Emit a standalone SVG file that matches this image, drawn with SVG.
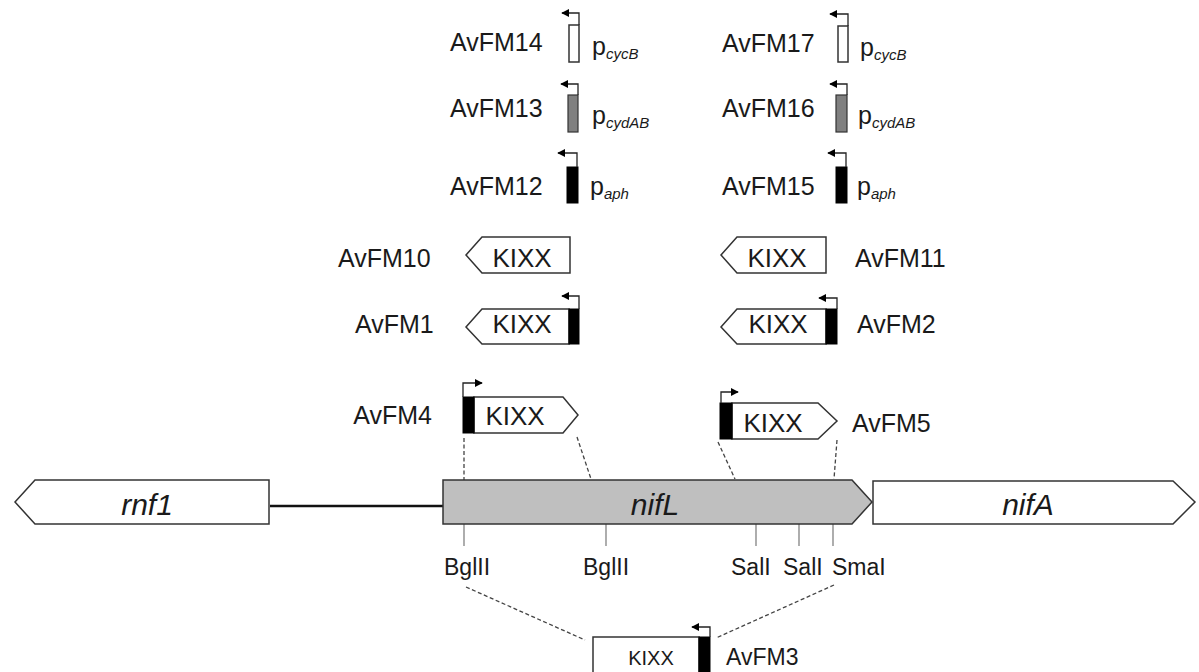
<svg xmlns="http://www.w3.org/2000/svg" width="1199" height="672" viewBox="0 0 1199 672">
<style>
text{font-family:"Liberation Sans",Arial,sans-serif;fill:#1a1a1a}
.lab{font-size:25px}
.kixx{font-size:26px;text-anchor:middle}
.gene{font-size:30px;font-style:italic;text-anchor:middle}
.site{font-size:23px}
.sub{font-size:15px;font-style:italic}
.box{fill:#fff;stroke:#333;stroke-width:1.5}
.blk{fill:#000;stroke:#000;stroke-width:1}
.gry{fill:#808080;stroke:#333;stroke-width:1.2}
.prom{fill:none;stroke:#222;stroke-width:1.3;marker-end:url(#ah)}
.dash{fill:none;stroke:#444;stroke-width:1.3;stroke-dasharray:4 2.5}
.tick{stroke:#777;stroke-width:1.2}
</style>
<defs>
<marker id="ah" viewBox="0 0 10 10" refX="9" refY="5" markerWidth="8" markerHeight="8" markerUnits="userSpaceOnUse" orient="auto"><path d="M0,0 L10,5 L0,10 z" fill="#000"/></marker>
</defs>
<rect width="1199" height="672" fill="#fff"/>

<g id="connectors">
<line x1="270" y1="506" x2="443" y2="506" stroke="#111" stroke-width="2.5"/>
<path class="dash" d="M464,438 L464,480"/>
<path class="dash" d="M577,437 L591,479"/>
<path class="dash" d="M718,442 L735,479"/>
<path class="dash" d="M837,440 L834,479"/>
<path class="dash" d="M466,587 L585,640"/>
<path class="dash" d="M834,585 L716,638"/>
<line class="tick" x1="464" y1="524" x2="464" y2="546"/>
<line class="tick" x1="606" y1="524" x2="606" y2="546"/>
<line class="tick" x1="756" y1="524" x2="756" y2="546"/>
<line class="tick" x1="799" y1="524" x2="799" y2="546"/>
<line class="tick" x1="833" y1="524" x2="833" y2="546"/>
</g>

<g id="rnf1">
<polygon class="box" points="15,502 35,480 269,480 269,524 35,524"/>
<text class="gene" x="147" y="515">rnf1</text>
</g>
<g id="nifL">
<polygon points="443,480 852,480 872,502 852,524 443,524" fill="#bfbfbf" stroke="#333" stroke-width="1.5"/>
<text class="gene" x="655" y="515">nifL</text>
</g>
<g id="nifA">
<polygon class="box" points="873,481 1173,481 1195,502 1173,524 873,524"/>
<text class="gene" x="1028" y="515">nifA</text>
</g>

<g id="sites">
<text class="site" x="444" y="575">BglII</text>
<text class="site" x="583" y="575">BglII</text>
<text class="site" x="731" y="575">SalI</text>
<text class="site" x="783" y="575">SalI</text>
<text class="site" x="832" y="575">SmaI</text>
</g>

<g id="AvFM14">
<text class="lab" x="450" y="51">AvFM14</text>
<rect class="box" x="569" y="25" width="10" height="37" stroke-width="1.2"/>
<path class="prom" d="M579,25 V13 H562"/>
<text class="lab" x="592" y="55">p<tspan class="sub" dy="4">cycB</tspan></text>
</g>
<g id="AvFM17">
<text class="lab" x="722" y="52">AvFM17</text>
<rect class="box" x="838" y="26" width="10" height="36" stroke-width="1.2"/>
<path class="prom" d="M848,26 V14 H830"/>
<text class="lab" x="860" y="56">p<tspan class="sub" dy="4">cycB</tspan></text>
</g>
<g id="AvFM13">
<text class="lab" x="450" y="117">AvFM13</text>
<rect class="gry" x="568" y="95" width="10" height="37"/>
<path class="prom" d="M578,95 V84 H561"/>
<text class="lab" x="592" y="124">p<tspan class="sub" dy="4">cydAB</tspan></text>
</g>
<g id="AvFM16">
<text class="lab" x="722" y="117">AvFM16</text>
<rect class="gry" x="836" y="95" width="11" height="37"/>
<path class="prom" d="M847,95 V84 H830"/>
<text class="lab" x="858" y="124">p<tspan class="sub" dy="4">cydAB</tspan></text>
</g>
<g id="AvFM12">
<text class="lab" x="450" y="195">AvFM12</text>
<rect class="blk" x="567" y="167" width="11" height="36"/>
<path class="prom" d="M577,167 V153 H558"/>
<text class="lab" x="590" y="195">p<tspan class="sub" dy="4">aph</tspan></text>
</g>
<g id="AvFM15">
<text class="lab" x="722" y="195">AvFM15</text>
<rect class="blk" x="836" y="167" width="11" height="36"/>
<path class="prom" d="M846,167 V153 H828"/>
<text class="lab" x="857" y="195">p<tspan class="sub" dy="4">aph</tspan></text>
</g>

<g id="AvFM10">
<text class="lab" x="338" y="267">AvFM10</text>
<polygon class="box" points="466,255 482,237 570,237 570,273 482,273"/>
<text class="kixx" x="522" y="267">KIXX</text>
</g>
<g id="AvFM11">
<polygon class="box" points="721,255 737,237 826,237 826,273 737,273"/>
<text class="kixx" x="777" y="267">KIXX</text>
<text class="lab" x="855" y="267">AvFM11</text>
</g>
<g id="AvFM1">
<text class="lab" x="355" y="333">AvFM1</text>
<polygon class="box" points="466,327 482,309 569,309 569,344 482,344"/>
<rect class="blk" x="569" y="309" width="10" height="35"/>
<path class="prom" d="M579,309 V296 H562"/>
<text class="kixx" x="522" y="333">KIXX</text>
</g>
<g id="AvFM2">
<polygon class="box" points="721,327 737,309 826,309 826,344 737,344"/>
<rect class="blk" x="826" y="309" width="11" height="35"/>
<path class="prom" d="M837,309 V298 H819"/>
<text class="kixx" x="778" y="333">KIXX</text>
<text class="lab" x="857" y="333">AvFM2</text>
</g>
<g id="AvFM4">
<text class="lab" x="432" y="424" text-anchor="end">AvFM4</text>
<polygon class="box" points="474,397 563,397 578,415 563,433 474,433"/>
<rect class="blk" x="463" y="397" width="11" height="36"/>
<path class="prom" d="M463,397 V383 H482"/>
<text class="kixx" x="515" y="425">KIXX</text>
</g>
<g id="AvFM5">
<polygon class="box" points="732,403 818,403 837,421 818,439 732,439"/>
<rect class="blk" x="720" y="403" width="12" height="36"/>
<path class="prom" d="M721,403 V392 H738"/>
<text class="kixx" x="773" y="432">KIXX</text>
<text class="lab" x="852" y="432">AvFM5</text>
</g>
<g id="AvFM3">
<rect class="box" x="593" y="637" width="106" height="50"/>
<rect class="blk" x="699" y="637" width="11" height="50"/>
<path class="prom" d="M710,637 V627 H692"/>
<text class="kixx" x="651" y="665" style="font-size:20px">KIXX</text>
<text class="lab" x="726" y="665" style="font-size:23px">AvFM3</text>
</g>
</svg>
